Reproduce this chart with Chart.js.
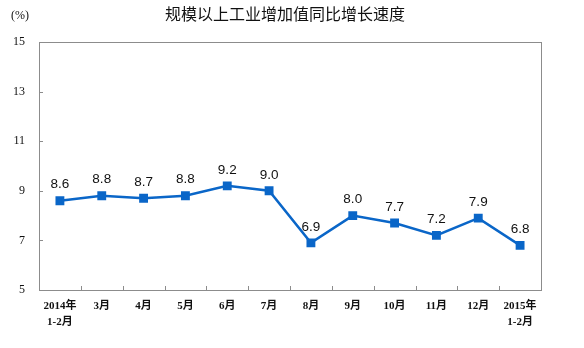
<!DOCTYPE html>
<html>
<head>
<meta charset="utf-8">
<title>规模以上工业增加值同比增长速度</title>
<style>
  body { margin: 0; background: #fff; }
  .wrap { position: relative; width: 584px; height: 348px; }
</style>
</head>
<body>
<div class="wrap"><canvas id="myChart" width="584" height="348"></canvas></div>
<script src="https://cdn.jsdelivr.net/npm/chart.js@4/dist/chart.umd.min.js"></script>
<script>
// data
var months = [['2014年', '1-2月'], '3月', '4月', '5月', '6月', '7月', '8月', '9月', '10月', '11月', '12月', ['2015年', '1-2月']];
var growth = [8.6, 8.8, 8.7, 8.8, 9.2, 9.0, 6.9, 8.0, 7.7, 7.2, 7.9, 6.8];
var yTicks = [5, 7, 9, 11, 13, 15];

var titleText = '规模以上工业增加值同比增长速度';
var unitText = '(%)';

// frame, inward ticks, title, value labels
var decor = {
    id: 'decor',
    afterDraw: function(chart) {
        var ctx = chart.ctx;
        var a = chart.chartArea;
        var xs = chart.scales.x, ys = chart.scales.y;
        ctx.save();
        ctx.strokeStyle = '#8c8c8c';
        ctx.lineWidth = 1;
        ctx.strokeRect(Math.round(a.left) + 0.5, Math.round(a.top) + 0.5, Math.round(a.right - a.left), Math.round(a.bottom - a.top));
        ctx.beginPath();
        yTicks.forEach(function(v) {
            var py = Math.round(ys.getPixelForValue(v)) + 0.5;
            ctx.moveTo(a.left, py);
            ctx.lineTo(a.left + 4, py);
        });
        for (var i = 1; i < months.length; i++) {
            var px = Math.round((xs.getPixelForValue(i - 1) + xs.getPixelForValue(i)) / 2) + 0.5;
            ctx.moveTo(px, a.bottom);
            ctx.lineTo(px, a.bottom - 4);
        }
        ctx.stroke();

        ctx.fillStyle = '#111';
        ctx.textAlign = 'center';
        ctx.textBaseline = 'middle';
        ctx.font = '16px "Noto Sans CJK SC"';
        ctx.fillText(titleText, 285, 14);
        ctx.font = '12px "Liberation Serif"';
        ctx.fillText(unitText, 20, 16);

        ctx.font = '13.5px "Liberation Sans"';
        var meta = chart.getDatasetMeta(0);
        meta.data.forEach(function(pt, i) {
            ctx.fillText(growth[i].toFixed(1), pt.x, pt.y - 16);
        });
        ctx.restore();
    }
};

var ctx = document.getElementById('myChart').getContext('2d');
var chart = new Chart(ctx, {
    type: 'line',
    data: {
        labels: months,
        datasets: [{
            data: growth,
            borderColor: '#0a66c8',
            backgroundColor: '#0a66c8',
            borderWidth: 2.5,
            pointStyle: 'rect',
            pointRadius: 4.5,
            pointHoverRadius: 4.5,
            fill: false,
            tension: 0
        }]
    },
    options: {
        responsive: false,
        animation: false,
        layout: { padding: { top: 42, right: 43, left: 0, bottom: 0 } },
        plugins: { legend: { display: false }, tooltip: { enabled: false }, title: { display: false } },
        scales: {
            x: {
                offset: true,
                grid: { display: false, drawTicks: false },
                border: { display: false },
                ticks: {
                    color: '#111',
                    padding: 8,
                    maxRotation: 0,
                    autoSkip: false,
                    font: { family: '"Liberation Serif", "Noto Sans CJK SC"', size: 11, weight: 'bold', lineHeight: 1.45 }
                },
                afterFit: function(s) { s.height = 58; }
            },
            y: {
                min: 5,
                max: 15,
                afterBuildTicks: function(s) { s.ticks = yTicks.map(function(v) { return { value: v }; }); },
                grid: { display: false, drawTicks: false },
                border: { display: false },
                ticks: {
                    color: '#111',
                    padding: 14,
                    font: { family: '"Liberation Serif"', size: 12 }
                },
                afterFit: function(s) { s.width = 39; }
            }
        }
    },
    plugins: [decor]
});
</script>
</body>
</html>
